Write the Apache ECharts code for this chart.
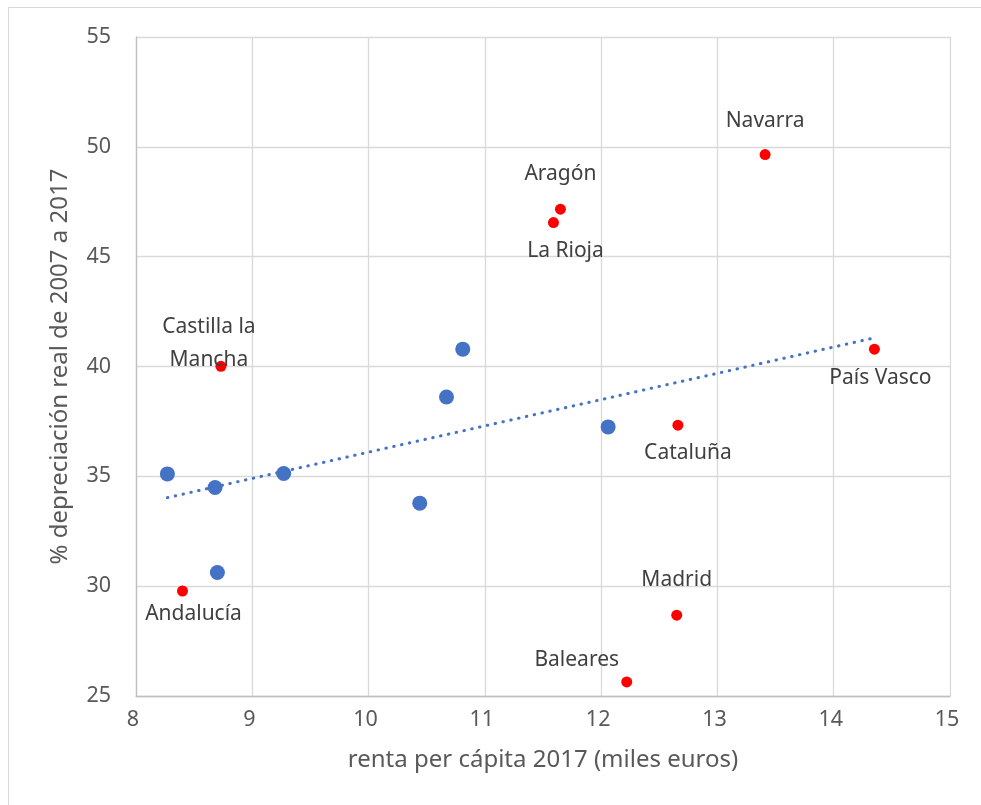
<!DOCTYPE html>
<html>
<head>
<meta charset="utf-8">
<script src="https://cdn.jsdelivr.net/npm/echarts@6/dist/echarts.min.js"></script>
<style>
html,body{margin:0;padding:0;background:#fff;}
#chart{width:981px;height:805px;}
</style>
</head>
<body>
<div id="chart"></div>
<script>
// ---- data ----
const blueX = [8.27, 8.68, 9.27, 8.70, 10.44, 10.81, 10.67, 12.06];
const blueY = [35.11, 34.49, 35.13, 30.62, 33.78, 40.79, 38.61, 37.25];

const redNames = ['Castilla la\nMancha', 'Andalucía', 'Aragón', 'La Rioja', 'Navarra', 'País Vasco', 'Cataluña', 'Madrid', 'Baleares'];
const redX = [8.73, 8.40, 11.65, 11.59, 13.41, 14.35, 12.66, 12.65, 12.22];
const redY = [40.01, 29.78, 47.16, 46.55, 49.65, 40.79, 37.33, 28.68, 25.64];

const trendX = [8.27, 14.32];
const trendY = [34.03, 41.27];

const xTicks = [8, 9, 10, 11, 12, 13, 14, 15];
const yTicks = [25, 30, 35, 40, 45, 50, 55];

const xTitle = 'renta per cápita 2017 (miles euros)';
const yTitle = '% depreciación real de 2007 a 2017';

// ---- label placement (style) ----
const labelOffsets = {
  'Castilla la\nMancha': [-12, -23],
  'Andalucía': [11, 23],
  'Aragón': [0, -35],
  'La Rioja': [12, 28],
  'Navarra': [0, -34],
  'País Vasco': [6, 29],
  'Cataluña': [10, 28],
  'Madrid': [0, -35],
  'Baleares': [-50, -22]
};

const FONT = 'Noto Sans';
const chart = echarts.init(document.getElementById('chart'), null, {renderer: 'canvas'});

const blueData = blueX.map((x, i) => [x, blueY[i]]);
const redData = redX.map((x, i) => ({
  value: [x, redY[i]],
  name: redNames[i],
  label: {
    show: true,
    formatter: redNames[i],
    position: 'inside',
    offset: labelOffsets[redNames[i]],
    align: 'center',
    verticalAlign: 'middle'
  }
}));
const trendData = trendX.map((x, i) => [x, trendY[i]]);

chart.setOption({
  backgroundColor: '#fff',
  animation: false,
  graphic: [{
    type: 'rect',
    shape: {x: 8.5, y: 7.5, width: 1000, height: 900},
    style: {fill: 'none', stroke: '#d9d9d9', lineWidth: 1},
    silent: true,
    z: -1
  }],
  grid: {left: 136, right: 31, top: 37, bottom: 109, containLabel: false},
  xAxis: {
    type: 'value',
    min: xTicks[0], max: xTicks[xTicks.length - 1], interval: 1,
    name: xTitle,
    nameLocation: 'middle',
    nameGap: 52,
    nameTextStyle: {fontFamily: FONT, fontSize: 24, color: '#595959'},
    axisLine: {show: true, lineStyle: {color: '#bfbfbf', width: 1.3}},
    axisTick: {show: false},
    axisLabel: {fontFamily: FONT, fontSize: 21.5, color: '#595959', margin: 13, padding: [0, 6, 0, 0]},
    splitLine: {show: true, lineStyle: {color: '#d9d9d9', width: 1.3}}
  },
  yAxis: {
    type: 'value',
    min: yTicks[0], max: yTicks[yTicks.length - 1], interval: 5,
    name: yTitle,
    nameLocation: 'middle',
    nameRotate: 90,
    nameGap: 64,
    nameTextStyle: {fontFamily: FONT, fontSize: 24, color: '#595959'},
    axisLine: {show: true, lineStyle: {color: '#bfbfbf', width: 1.3}},
    axisTick: {show: false},
    axisLabel: {fontFamily: FONT, fontSize: 21.5, color: '#595959', margin: 25},
    splitLine: {show: true, lineStyle: {color: '#d9d9d9', width: 1.3}}
  },
  series: [
    {
      type: 'line',
      data: trendData,
      symbol: 'none',
      lineStyle: {color: '#4472C4', width: 3, type: [0.5, 7.5], cap: 'round'},
      z: 2,
      silent: true
    },
    {
      type: 'scatter',
      data: blueData,
      symbolSize: 15,
      itemStyle: {color: '#4472C4', opacity: 1},
      z: 3
    },
    {
      type: 'scatter',
      data: redData,
      symbolSize: 11,
      itemStyle: {color: '#FF0000', opacity: 1},
      label: {fontFamily: FONT, fontSize: 21, color: '#404040', lineHeight: 33},
      z: 4
    }
  ]
});
</script>
</body>
</html>
